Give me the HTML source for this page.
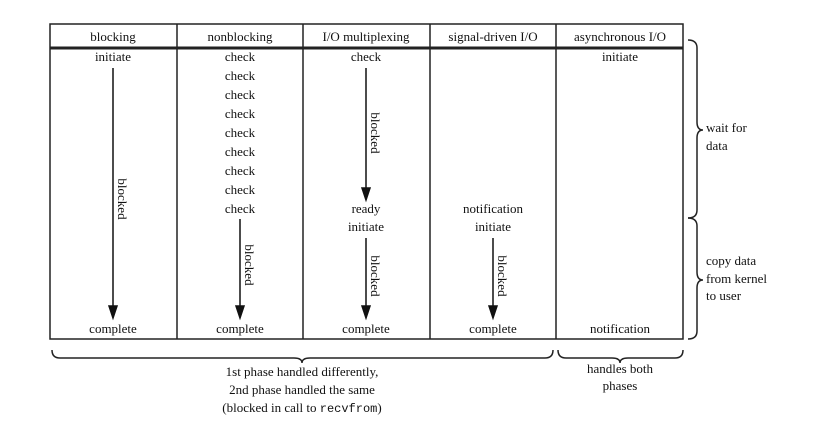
<!DOCTYPE html>
<html><head><style>body{margin:0;background:#fff}svg{display:block}text{font-family:"Liberation Serif",serif;font-size:13px;fill:#111}</style></head><body>
<svg width="835" height="423" viewBox="0 0 835 423" xmlns="http://www.w3.org/2000/svg">
<defs><marker id="a" markerWidth="8" markerHeight="12" refX="4" refY="12" orient="auto" markerUnits="userSpaceOnUse"><path d="M0,0 L8,0 L4,12 z" fill="#111" transform="rotate(0)"/></marker></defs>
<g stroke="#222" fill="none">
<rect x="50" y="24" width="633" height="315" stroke-width="1.5"/>
<line x1="50" y1="48" x2="683" y2="48" stroke-width="3"/>
<line x1="177" y1="24" x2="177" y2="339" stroke-width="1.5"/>
<line x1="303" y1="24" x2="303" y2="339" stroke-width="1.5"/>
<line x1="430" y1="24" x2="430" y2="339" stroke-width="1.5"/>
<line x1="556" y1="24" x2="556" y2="339" stroke-width="1.5"/>
</g>
<g stroke="#111" stroke-width="1.5">
<line x1="113" y1="68" x2="113" y2="308"/><path d="M109,306 L117,306 L113,318z" fill="#111"/>
<line x1="240" y1="219" x2="240" y2="308"/><path d="M236,306 L244,306 L240,318z" fill="#111"/>
<line x1="366" y1="68" x2="366" y2="190"/><path d="M362,188 L370,188 L366,200z" fill="#111"/>
<line x1="366" y1="238" x2="366" y2="308"/><path d="M362,306 L370,306 L366,318z" fill="#111"/>
<line x1="493" y1="238" x2="493" y2="308"/><path d="M489,306 L497,306 L493,318z" fill="#111"/>
</g>
<g text-anchor="middle">
<text x="113" y="41">blocking</text><text x="240" y="41">nonblocking</text><text x="366" y="41">I/O multiplexing</text><text x="493" y="41">signal-driven I/O</text><text x="620" y="41">asynchronous I/O</text>
<text x="113" y="61">initiate</text>
<text x="240" y="61">check</text><text x="240" y="80">check</text><text x="240" y="99">check</text><text x="240" y="118">check</text><text x="240" y="137">check</text><text x="240" y="156">check</text><text x="240" y="175">check</text><text x="240" y="194">check</text><text x="240" y="213">check</text>
<text x="366" y="61">check</text><text x="366" y="213">ready</text><text x="366" y="231">initiate</text>
<text x="493" y="213">notification</text><text x="493" y="231">initiate</text>
<text x="620" y="61">initiate</text>
<text x="113" y="333">complete</text><text x="240" y="333">complete</text><text x="366" y="333">complete</text><text x="493" y="333">complete</text><text x="620" y="333">notification</text>
<text transform="translate(118,199) rotate(90)">blocked</text>
<text transform="translate(245,265) rotate(90)">blocked</text>
<text transform="translate(371,133) rotate(90)">blocked</text>
<text transform="translate(371,276) rotate(90)">blocked</text>
<text transform="translate(498,276) rotate(90)">blocked</text>
<text x="302" y="376">1st phase handled differently,</text>
<text x="302" y="394">2nd phase handled the same</text>
<text x="302" y="412">(blocked in call to <tspan font-family="Liberation Mono, monospace" font-size="12">recvfrom</tspan>)</text>
<text x="620" y="373">handles both</text><text x="620" y="390">phases</text>
</g>
<text x="706" y="132">wait for</text><text x="706" y="150">data</text>
<text x="706" y="265">copy data</text><text x="706" y="283">from kernel</text><text x="706" y="300">to user</text>
<g stroke="#222" stroke-width="1.5" fill="none">
<path d="M688,40 Q697,40 697,48 L697,122 Q697,130 703,130 Q697,130 697,138 L697,210 Q697,218 688,218"/>
<path d="M688,218 Q697,218 697,226 L697,272 Q697,280 703,280 Q697,280 697,288 L697,331 Q697,339 688,339"/>
<path d="M52,350 Q52,358 60,358 L294,358 Q302,358 302,363 Q302,358 310,358 L545,358 Q553,358 553,350"/>
<path d="M558,350 Q558,358 566,358 L612,358 Q620,358 620,363 Q620,358 628,358 L675,358 Q683,358 683,350"/>
</g>
</svg>
</body></html>
